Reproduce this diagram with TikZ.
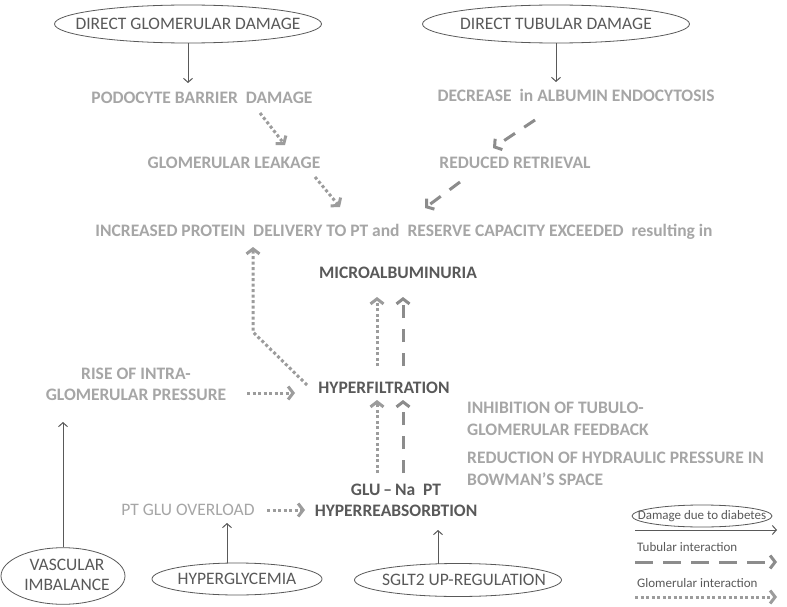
\documentclass[tikz,border=0pt]{standalone}
\usepackage{fontspec}
\setmainfont{Carlito}
\usetikzlibrary{arrows.meta,shapes.geometric,calc}
\definecolor{lightg}{HTML}{A6A6A6}
\definecolor{darkg}{HTML}{595959}
\definecolor{arrg}{HTML}{9C9C9C}
\definecolor{dashg}{HTML}{8C8C8C}
\begin{document}
\begin{tikzpicture}[x=1pt,y=-1pt,
  lt/.style={font=\fontsize{17.5}{21}\selectfont\bfseries, text=lightg, inner sep=0pt},
  ltreg/.style={font=\fontsize{17.5}{21}\selectfont, text=lightg, inner sep=0pt},
  dk/.style={font=\fontsize{17.5}{21}\selectfont\bfseries, text=darkg, inner sep=0pt},
  ell/.style={ellipse, draw=darkg, line width=0.8pt, inner sep=0pt, text=darkg, font=\fontsize{17.5}{20}\selectfont},
  legtext/.style={font=\fontsize{13}{15}\selectfont, text=darkg, inner sep=0pt, anchor=west},
  solidarr/.style={draw=darkg, line width=1pt, -{Straight Barb[length=4pt,width=9pt]}},
  dotarr/.style={draw=arrg, line width=3pt, dash pattern=on 3pt off 2.5pt, -{Straight Barb[length=5pt,width=13pt,line width=3pt]}},
  dasharr/.style={draw=dashg, line width=3pt, dash pattern=on 13pt off 11pt, -{Straight Barb[length=5pt,width=13pt,line width=3pt]}}
]
\fill[white] (0,0) rectangle (787,607);
\useasboundingbox (0,0) rectangle (787,607);

% ellipses
\node[ell, minimum width=267pt, minimum height=38pt] (dgd) at (188,24) {\makebox[0pt]{DIRECT GLOMERULAR DAMAGE}};
\node[ell, minimum width=267pt, minimum height=38pt] (dtd) at (556,24) {\makebox[0pt]{DIRECT TUBULAR DAMAGE}};
\node[ell, minimum width=124pt, minimum height=56pt] (vas) at (63,576) {\makebox[0pt]{\hspace*{8pt}\begin{tabular}{@{}c@{}}VASCULAR\\IMBALANCE\end{tabular}}};
\node[ell, minimum width=170pt, minimum height=32pt] (hgl) at (237,579) {\makebox[0pt]{HYPERGLYCEMIA}};
\node[ell, minimum width=207pt, minimum height=33pt] (sglt) at (458,580) {\makebox[0pt]{\hspace*{12pt}SGLT2 UP-REGULATION}};

% text nodes
\node[lt] (pbd) at (202,98) {PODOCYTE BARRIER\ \ DAMAGE};
\node[lt] (gl) at (234,163) {GLOMERULAR LEAKAGE};
\node[lt] (dae) at (576,95) {DECREASE\ \ in ALBUMIN ENDOCYTOSIS};
\node[lt] (rr) at (515,163) {REDUCED RETRIEVAL};
\node[lt] (ipd) at (404,232) {INCREASED PROTEIN\ \ DELIVERY TO PT and\ \ RESERVE CAPACITY EXCEEDED\ \ resulting in};
\node[dk] (mic) at (398,273) {MICROALBUMINURIA};
\node[dk] (hyp) at (384,388) {HYPERFILTRATION};
\node[lt, align=center] (rise) at (136,384) {RISE OF INTRA-\\GLOMERULAR PRESSURE};
\node[dk] (glu) at (396,490) {GLU\,–\,Na\ \ PT};
\node[dk] (hra) at (396,511) {HYPERREABSORBTION};
\node[ltreg] (ptg) at (188,510) {PT GLU OVERLOAD};
\node[lt, align=left, anchor=west, font=\fontsize{17.5}{22}\selectfont\bfseries] (inh) at (467,419) {INHIBITION OF TUBULO-\\GLOMERULAR FEEDBACK};
\node[lt, align=left, anchor=west, font=\fontsize{17.5}{22}\selectfont\bfseries] (red) at (467,469) {REDUCTION OF HYDRAULIC PRESSURE IN\\BOWMAN’S SPACE};

% solid arrows
\draw[solidarr] (dgd.south) -- (dgd.south |- 0,83);
\draw[solidarr] (dtd.south) -- (dtd.south |- 0,82);
\draw[solidarr] (vas.north) -- ($(rise)+(-73,38)$);
\draw[solidarr] ($(hgl)+(-10,-16)$) -- ($(ptg)+(39,13)$);
\draw[solidarr] ($(sglt)+(-20,-16)$) -- ($(hra)+(42,19)$);

% dotted (glomerular) arrows
\draw[dotarr] ($(pbd)+(58,15)$) -- ($(gl)+(51,-18)$);
\draw[dotarr] ($(gl)+(81,14)$) -- ($(ipd)+(-64,-25)$);
\draw[dotarr] ($(hyp)+(-7,-22)$) -- ($(mic)+(-21,24)$);
\draw[dotarr] ($(glu)+(-19,-17)$) -- ($(hyp)+(-7,12)$);
\draw[dotarr] ($(hyp)+(-77,-3)$) -- ($(ipd)+(-151,100)$) -- ($(ipd)+(-151,15)$);
\draw[dotarr] ($(rise)+(111,9)$) -- ($(hyp)+(-89,5)$);
\draw[dotarr] ($(ptg)+(79,0)$) -- ($(hra)+(-91,-1)$);

% dashed (tubular) arrows
\draw[dasharr] ($(dae)+(-41,25)$) -- ($(rr)+(-22,-15)$);
\draw[dasharr] ($(rr)+(-55,19)$) -- ($(ipd)+(21,-24)$);
\draw[dasharr] ($(hyp)+(19,-22)$) -- ($(mic)+(5,24)$);
\draw[dasharr] ($(glu)+(7,-17)$) -- ($(hyp)+(19,12)$);

% legend
\node[ell, minimum width=140pt, minimum height=22pt, font=\fontsize{13}{15}\selectfont] (leg) at (702,516) {\makebox[0pt]{Damage due to diabetes}};
\coordinate (l1a) at (635,530); \coordinate (l1b) at (777,530);
\draw[solidarr] (l1a) -- (l1b);
\node[legtext] (tub) at (637,547) {Tubular interaction};
\coordinate (l2a) at (635,562); \coordinate (l2b) at (777,562);
\draw[dasharr, dash pattern=on 18pt off 10pt] (l2a) -- (l2b);
\node[legtext] (glo) at (637,583) {Glomerular interaction};
\coordinate (l3a) at (635,597); \coordinate (l3b) at (777,597);
\draw[dotarr] (l3a) -- (l3b);
\end{tikzpicture}
\end{document}
